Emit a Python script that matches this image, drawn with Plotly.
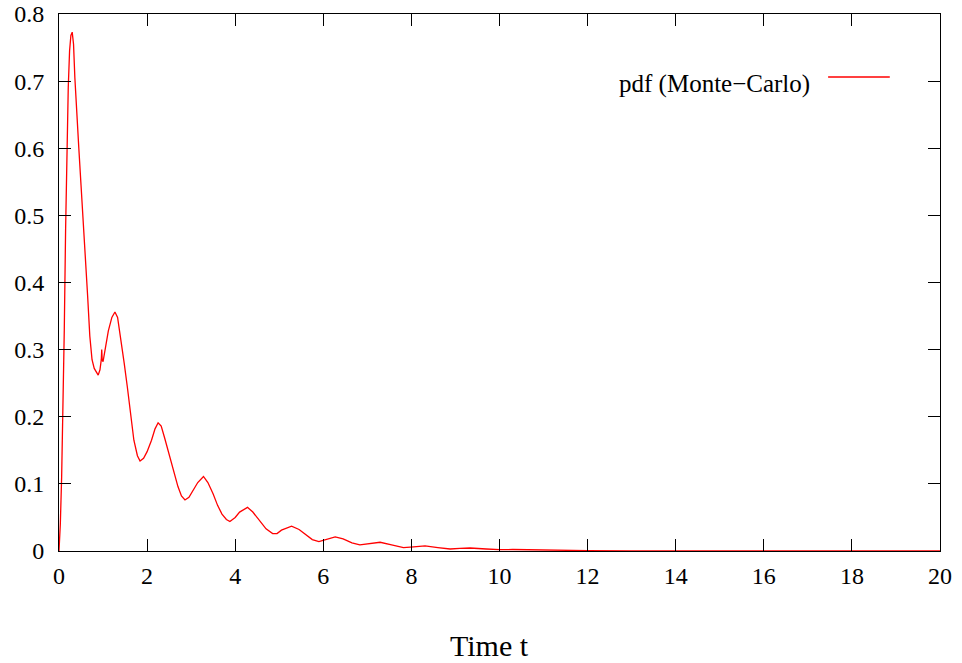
import plotly.graph_objects as go

t_vals = [0.00, 0.03, 0.06, 0.09, 0.12, 0.15, 0.18, 0.21, 0.24, 0.27, 0.30, 0.33, 0.36, 0.40, 0.45,
          0.50, 0.55, 0.60, 0.65, 0.70, 0.75, 0.80, 0.85, 0.89, 0.93, 0.96, 0.97, 0.98, 1.00, 1.05,
          1.12, 1.20, 1.27, 1.33, 1.40, 1.48, 1.55, 1.62, 1.70, 1.78, 1.84, 1.92, 2.00, 2.10, 2.18,
          2.25, 2.32, 2.40, 2.50, 2.60, 2.70, 2.78, 2.86, 2.95, 3.05, 3.15, 3.28, 3.38, 3.50, 3.60,
          3.70, 3.80, 3.88, 4.00, 4.10, 4.28, 4.40, 4.55, 4.70, 4.85, 4.95, 5.05, 5.28, 5.45, 5.60,
          5.75, 5.90, 6.05, 6.27, 6.45, 6.65, 6.83, 7.05, 7.29, 7.55, 7.82, 8.05, 8.31, 8.60, 8.88,
          9.10, 9.33, 9.70, 10.0, 10.3, 10.8, 11.3, 12.0, 13.0, 14.0, 15.0, 20.0]
pdf_vals = [0.000, 0.040, 0.110, 0.200, 0.330, 0.480, 0.600, 0.690, 0.745, 0.768, 0.773, 0.755, 0.705, 0.650, 0.600,
            0.545, 0.495, 0.440, 0.380, 0.320, 0.285, 0.272, 0.265, 0.262, 0.270, 0.285, 0.300, 0.285, 0.282, 0.300,
            0.328, 0.348, 0.356, 0.348, 0.318, 0.280, 0.245, 0.205, 0.165, 0.142, 0.134, 0.138, 0.148, 0.165, 0.182,
            0.191, 0.186, 0.168, 0.145, 0.120, 0.096, 0.082, 0.076, 0.080, 0.090, 0.102, 0.111, 0.102, 0.085, 0.068,
            0.055, 0.047, 0.044, 0.050, 0.058, 0.065, 0.058, 0.045, 0.033, 0.026, 0.026, 0.031, 0.037, 0.032, 0.024,
            0.017, 0.014, 0.017, 0.021, 0.018, 0.012, 0.009, 0.011, 0.013, 0.009, 0.005, 0.006, 0.0075, 0.005, 0.003,
            0.004, 0.0045, 0.003, 0.002, 0.0022, 0.0015, 0.0012, 0.0005, 0.0002, 0.0001, 0.0, 0.0]

x_ticks = [0, 2, 4, 6, 8, 10, 12, 14, 16, 18, 20]
y_ticks = [0, 0.1, 0.2, 0.3, 0.4, 0.5, 0.6, 0.7, 0.8]
y_tick_labels = ["0", "0.1", "0.2", "0.3", "0.4", "0.5", "0.6", "0.7", "0.8"]
legend_label = "pdf (Monte\u2212Carlo)"
x_title = "Time t"

FONT = "Liberation Serif, Times New Roman, serif"

fig = go.Figure()
fig.add_trace(go.Scatter(x=t_vals, y=pdf_vals, mode="lines",
                         line=dict(color="#ff0000", width=1.3), name=legend_label,
                         showlegend=False))

axis_common = dict(showline=True, linecolor="black", linewidth=1, mirror="allticks",
                   ticks="inside", ticklen=12, tickcolor="black", tickwidth=1,
                   showgrid=False, zeroline=False, automargin=False,
                   tickfont=dict(family=FONT, size=24, color="black"))

fig.update_xaxes(range=[0, 20], tickvals=x_ticks, ticktext=[str(v) for v in x_ticks],
                 ticklabelstandoff=3, **axis_common)
fig.update_yaxes(range=[0, 0.8], tickvals=y_ticks, ticktext=y_tick_labels,
                 ticklabelstandoff=9, **axis_common)

fig.add_annotation(text=legend_label, xref="paper", yref="paper", x=0.855, y=0.8696,
                   xanchor="right", yanchor="middle", showarrow=False,
                   font=dict(family=FONT, size=25, color="black"))
fig.add_shape(type="line", xref="paper", yref="paper", x0=0.873, x1=0.943, y0=0.8827, y1=0.8827,
              line=dict(color="#ff0000", width=1.3))
fig.add_annotation(text=x_title, xref="paper", yref="paper", x=0.489, y=-0.176,
                   xanchor="center", yanchor="middle", showarrow=False,
                   font=dict(family=FONT, size=30, color="black"))

fig.update_layout(width=962, height=663, margin=dict(l=59, r=22, t=14, b=112),
                  plot_bgcolor="white", paper_bgcolor="white", showlegend=False,
                  font=dict(family=FONT, color="black"))

fig.write_html("out.html", config={"displayModeBar": False},
               post_script="document.body.style.margin='0';document.body.style.overflow='hidden';")
